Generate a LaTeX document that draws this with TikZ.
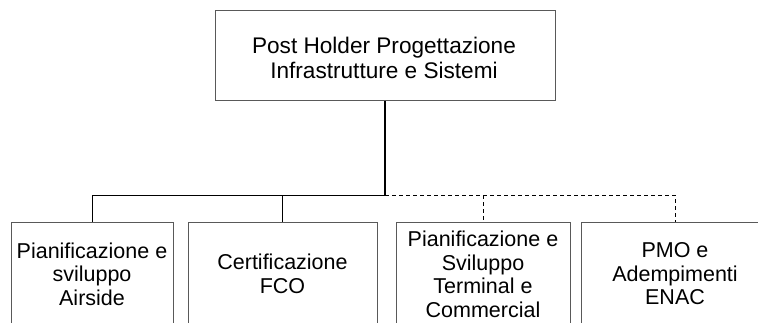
\documentclass[tikz,border=0pt]{standalone}
\usepackage{fontspec}
\setmainfont{Liberation Sans}
\begin{document}
\begin{tikzpicture}[x=1pt,y=-1pt,
  orgbox/.style={draw=black!65, line width=1pt, fill=white, align=center, inner sep=0pt,
    font=\fontsize{21.5}{23.5}\selectfont},
  link/.style={draw=black, line width=0.9pt},
  dlink/.style={draw=black, line width=0.9pt, dash pattern=on 4pt off 3pt}]
\useasboundingbox (0,0) rectangle (758,322);
\clip (0,0) rectangle (758,322);
\fill[white] (0,0) rectangle (758,322);
\node[orgbox, minimum width=340pt, minimum height=90pt] (top) at (385,55) {};
\node[align=center, inner sep=0pt, font=\fontsize{22.6}{25}\selectfont] (toptext) at (384,58)
  {Post Holder Progettazione\\Infrastrutture e Sistemi};
\node[orgbox, minimum width=162pt, minimum height=104pt] (b1) at (92,274)
  {Pianificazione e\\sviluppo\\Airside};
\node[orgbox, minimum width=189pt, minimum height=104pt] (b2) at (282.5,274)
  {Certificazione\\FCO};
\node[orgbox, minimum width=174pt, minimum height=104pt] (b3) at (483,274.5)
  {Pianificazione e\\Sviluppo\\Terminal e\\Commercial};
\node[orgbox, minimum width=188pt, minimum height=104pt] (b4) at (675,274)
  {PMO e\\Adempimenti\\ENAC};
\coordinate (bus) at (385,195);
\draw[link, line width=2pt] (top.south) -- (bus);
\draw[link] (bus) -| (b1.north);
\draw[link] (bus) -| (b2.north);
\draw[dlink] (bus) -| (b3.north);
\draw[dlink] (bus) -| (b4.north);
\end{tikzpicture}
\end{document}
